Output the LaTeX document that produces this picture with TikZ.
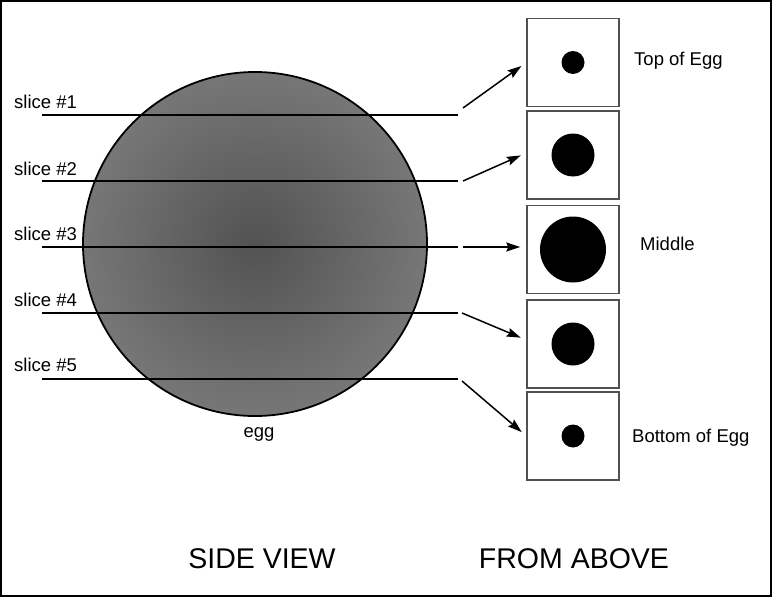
\documentclass[tikz,border=0pt]{standalone}
\usepackage{fontspec}
\setmainfont{Liberation Sans}
\usetikzlibrary{arrows.meta,positioning}
\definecolor{eggdark}{RGB}{82,82,82}
\definecolor{egglight}{RGB}{155,155,155}
\definecolor{boxgray}{RGB}{80,80,80}
\pgfdeclareradialshading{eggshade}{\pgfpoint{0bp}{0bp}}{color(0bp)=(eggdark); color(50bp)=(egglight)}

\begin{document}
\begin{tikzpicture}[
  x=1pt, y=-1pt,
  slicelabel/.style={anchor=base west, inner sep=0pt, font=\fontsize{18.5}{22}\selectfont},
  sidelabel/.style={anchor=base west, inner sep=0pt, font=\fontsize{18.5}{22}\selectfont},
  heading/.style={anchor=base, inner sep=0pt, font=\fontsize{28.5}{34}\selectfont},
  slicecut/.style={line width=1.6pt},
  viewbox/.style={rectangle, draw=boxgray, line width=1.4pt, minimum width=92pt, minimum height=88pt, inner sep=0pt},
  yolk/.style={circle, fill=black, inner sep=0pt},
  link/.style={-{Stealth[length=14pt, width=9pt, inset=2pt]}, line width=1.5pt, shorten >=6pt},
]
  \useasboundingbox (0,0) rectangle (772,597);
  \draw[line width=2.4pt] (1.2,1.2) rectangle (770.8,595.8);

  % Egg (side view)
  \node[circle, draw, line width=1.8pt, shading=eggshade, minimum size=344pt, inner sep=0pt] (egg) at (255,244) {};
  \node[anchor=base, inner sep=0pt, font=\fontsize{18.5}{22}\selectfont] (egglabel) at (259,437) {egg};

  % Slices
  \coordinate (s1w) at (42,115);  \coordinate (s1e) at (458,115);
  \coordinate (s2w) at (42,181);  \coordinate (s2e) at (458,181);
  \coordinate (s3w) at (42,247);  \coordinate (s3e) at (458,247);
  \coordinate (s4w) at (42,313);  \coordinate (s4e) at (458,313);
  \coordinate (s5w) at (42,379);  \coordinate (s5e) at (458,379);
  \draw[slicecut] (s1w) -- (s1e);
  \draw[slicecut] (s2w) -- (s2e);
  \draw[slicecut] (s3w) -- (s3e);
  \draw[slicecut] (s4w) -- (s4e);
  \draw[slicecut] (s5w) -- (s5e);
  \node[slicelabel] (lab1) at (14,108.5) {slice \#1};
  \node[slicelabel] (lab2) at (14,175) {slice \#2};
  \node[slicelabel] (lab3) at (14,240.5) {slice \#3};
  \node[slicelabel] (lab4) at (14,306.5) {slice \#4};
  \node[slicelabel] (lab5) at (14,371) {slice \#5};

  % Views from above
  \node[viewbox] (top) at (573,62.5) {};
  \node[viewbox] (upper) at (573,155) {};
  \node[viewbox] (mid) at (573,249.5) {};
  \node[viewbox] (lower) at (573,344) {};
  \node[viewbox] (bottom) at (573,436) {};
  \node[yolk, minimum size=23pt] (topdot) at (top.center) {};
  \node[yolk, minimum size=43pt] (upperdot) at (upper.center) {};
  \node[yolk, minimum size=66pt] (middot) at (mid.center) {};
  \node[yolk, minimum size=43pt] (lowerdot) at (lower.center) {};
  \node[yolk, minimum size=23pt] (bottomdot) at (bottom.center) {};

  % Arrows
  \coordinate (a1) at (463,108);
  \coordinate (a2) at (463,181);
  \coordinate (a3) at (463,247);
  \coordinate (a4) at (462,313);
  \coordinate (a5) at (462,381);
  \draw[link] (a1) -- (top.west);
  \draw[link] (a2) -- ([yshift=2pt]upper.west);
  \draw[link] (a3) -- ([yshift=2.5pt]mid.west);
  \draw[link] (a4) -- ([yshift=4pt]lower.west);
  \draw[link] (a5) -- (bottom.west);

  % Labels
  \node[sidelabel] (toplabel) at (634,65) {Top of Egg};
  \node[sidelabel] (midlabel) at (640,250) {Middle};
  \node[sidelabel] (bottomlabel) at (632,442) {Bottom of Egg};
  \node[heading] (sideview) at (262,568) {SIDE VIEW};
  \node[heading] (fromabove) at (574,568) {FROM ABOVE};
\end{tikzpicture}
\end{document}
